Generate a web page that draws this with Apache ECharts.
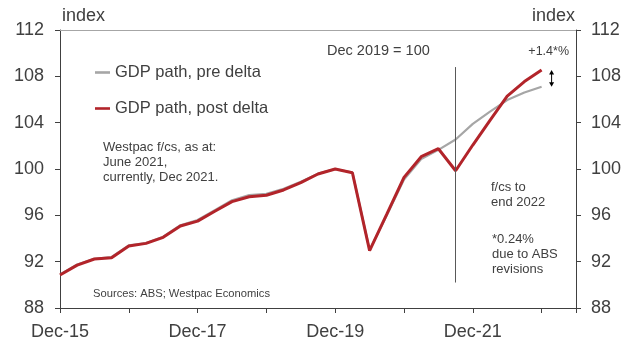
<!DOCTYPE html>
<html>
<head>
<meta charset="utf-8">
<script src="https://cdn.jsdelivr.net/npm/echarts@6/dist/echarts.min.js"></script>
<style>
  html, body { margin: 0; padding: 0; background: #fff; }
  #chart { width: 635px; height: 343px; }
</style>
</head>
<body>
<div id="chart"></div>
<script>
// Quarterly GDP index, Dec 2019 = 100
const quarters = [
  'Dec-15','Mar-16','Jun-16','Sep-16','Dec-16','Mar-17','Jun-17','Sep-17',
  'Dec-17','Mar-18','Jun-18','Sep-18','Dec-18','Mar-19','Jun-19','Sep-19',
  'Dec-19','Mar-20','Jun-20','Sep-20','Dec-20','Mar-21','Jun-21','Sep-21',
  'Dec-21','Mar-22','Jun-22','Sep-22','Dec-22','Mar-23','Jun-23'
];
const shownLabels = ['Dec-15', 'Dec-17', 'Dec-19', 'Dec-21'];

// Forecast path as at June 2021 (before the delta outbreak)
const preDelta = [
  90.9, 91.75, 92.25, 92.4, 93.4, 93.6, 94.15, 95.15,
  95.6, 96.45, 97.3, 97.75, 97.85, 98.3, 98.9, 99.6,
  100.0, 99.7, 93.0, 96.0, 99.1, 100.85, 101.65, 102.55,
  103.9, 104.95, 105.95, 106.6, 107.1
];
// Current path as at Dec 2021 (after the delta outbreak)
const postDelta = [
  90.85, 91.7, 92.23, 92.34, 93.35, 93.58, 94.1, 95.08,
  95.5, 96.35, 97.18, 97.6, 97.73, 98.19, 98.82, 99.57,
  100.0, 99.68, 92.95, 96.1, 99.28, 101.06, 101.75, 99.85,
  102.07, 104.2, 106.3, 107.55, 108.55
];

const yMin = 88, yMax = 112, yStep = 4;
const forecastStart = 'Sep-21';

const FONT = '"Liberation Sans", Arial, sans-serif';
const TEXT = '#404040';
const AXIS = '#404040';

const chart = echarts.init(document.getElementById('chart'), null, { renderer: 'canvas' });

function yAxisDef(pos, margin) {
  return {
    type: 'value', position: pos, min: yMin, max: yMax, interval: yStep,
    axisLine: { show: true, lineStyle: { color: AXIS, width: 1 } },
    axisTick: { show: true, inside: false, length: 5, lineStyle: { color: AXIS } },
    splitLine: { show: false },
    axisLabel: { fontSize: 18, color: TEXT, fontFamily: FONT, margin: margin }
  };
}

function txt(id, x, y, text, size, align) {
  return {
    id: id, type: 'text', x: x, y: y, silent: true,
    style: { text: text, fill: TEXT, font: size + 'px ' + FONT,
             textAlign: align || 'left', textVerticalAlign: 'middle' }
  };
}

chart.setOption({
  animation: false,
  grid: { left: 60, right: 59, top: 30, bottom: 35, containLabel: false },
  legend: {
    orient: 'vertical', left: 95, top: 64, itemGap: 19, padding: 0,
    icon: 'rect', itemWidth: 15, itemHeight: 2.6,
    textStyle: { fontSize: 16.5, color: TEXT, fontFamily: FONT },
    data: ['GDP path, pre delta', 'GDP path, post delta']
  },
  xAxis: [{
    type: 'category', data: quarters, boundaryGap: false,
    axisLine: { show: true, onZero: false, lineStyle: { color: AXIS, width: 1 } },
    axisTick: { show: true, interval: 3, length: 5, lineStyle: { color: AXIS } },
    axisLabel: {
      interval: 0, fontSize: 18, color: TEXT, fontFamily: FONT, margin: 15,
      formatter: v => shownLabels.includes(v) ? v : ''
    },
    splitLine: { show: false }
  }, {
    type: 'category', data: quarters, boundaryGap: false, position: 'top',
    axisLine: { show: true, onZero: false, lineStyle: { color: '#a6a6a6', width: 1 } },
    axisTick: { show: false }, axisLabel: { show: false }, splitLine: { show: false }
  }],
  yAxis: [yAxisDef('left', 16), yAxisDef('right', 15)],
  series: [{
    name: 'GDP path, pre delta', type: 'line', data: preDelta,
    symbol: 'none', lineStyle: { color: '#a6a6a6', width: 2.2 },
    itemStyle: { color: '#a6a6a6' }, z: 2
  }, {
    name: 'GDP path, post delta', type: 'line', data: postDelta,
    symbol: 'none', lineStyle: { color: '#b2242a', width: 3 },
    itemStyle: { color: '#b2242a' }, z: 3,
    markLine: {
      silent: true, symbol: 'none', label: { show: false },
      lineStyle: { color: '#595959', width: 1, type: 'solid' },
      data: [[{ coord: [forecastStart, 108.8] }, { coord: [forecastStart, 90.2] }]]
    }
  }]
});

// Double-headed arrow marking the gap between the two paths at the final quarter
const last = postDelta.length - 1;
const pTop = chart.convertToPixel({ seriesIndex: 1 }, [last, postDelta[last]]);
const pBot = chart.convertToPixel({ seriesIndex: 0 }, [last, preDelta[last]]);
const ax = pTop[0] + 10;

chart.setOption({
  graphic: [
    txt('idxL', 62, 16, 'index', 18),
    txt('idxR', 575, 16, 'index', 18, 'right'),
    txt('base', 327, 51, 'Dec 2019 = 100', 14.5),
    txt('gap', 569, 52, '+1.4*%', 12.5, 'right'),
    txt('w1', 103, 147, 'Westpac f/cs, as at:', 13),
    txt('w2', 103, 162, 'June 2021,', 13),
    txt('w3', 103, 177, 'currently, Dec 2021.', 13),
    txt('f1', 491, 187, 'f/cs to', 13),
    txt('f2', 491, 202, 'end 2022', 13),
    txt('r1', 492, 239, '*0.24%', 13),
    txt('r2', 492, 254, 'due to ABS', 13),
    txt('r3', 492, 269, 'revisions', 13),
    txt('src', 93, 294, 'Sources: ABS; Westpac Economics', 11.2),
    { id: 'arrowLine', type: 'line', silent: true,
      shape: { x1: ax, y1: pTop[1] + 3, x2: ax, y2: pBot[1] - 3 },
      style: { stroke: '#000', lineWidth: 1 } },
    { id: 'arrowUp', type: 'polygon', silent: true,
      shape: { points: [[ax, pTop[1]], [ax - 2.5, pTop[1] + 4.5], [ax + 2.5, pTop[1] + 4.5]] },
      style: { fill: '#000' } },
    { id: 'arrowDown', type: 'polygon', silent: true,
      shape: { points: [[ax, pBot[1]], [ax - 2.5, pBot[1] - 4.5], [ax + 2.5, pBot[1] - 4.5]] },
      style: { fill: '#000' } }
  ]
});
</script>
</body>
</html>
